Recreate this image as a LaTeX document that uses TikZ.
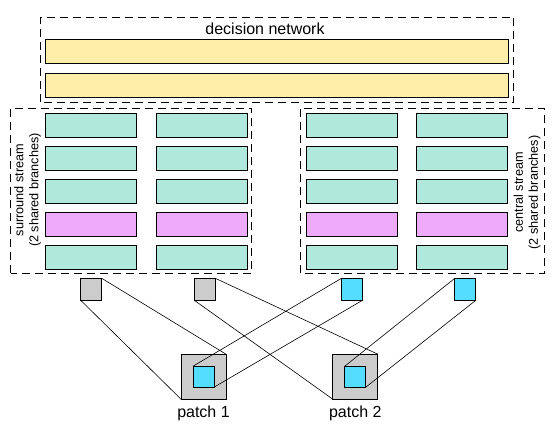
\documentclass[tikz,border=0pt]{standalone}
\usepackage{fontspec}
\setmainfont{Liberation Sans}
\usetikzlibrary{positioning}
\definecolor{netyellow}{HTML}{FFEDAA}
\definecolor{netteal}{HTML}{B0E8DC}
\definecolor{netpink}{HTML}{EEAAFB}
\definecolor{netgray}{HTML}{CCCCCC}
\definecolor{netblue}{HTML}{55DDFF}

\begin{document}
\begin{tikzpicture}[x=1pt,y=1pt,
  layer/.style={draw,line width=0.8pt,inner sep=0pt,outer sep=0pt,minimum height=24pt},
  group/.style={draw,dash pattern=on 8pt off 5pt,line width=0.8pt},
  unit/.style={draw,line width=0.8pt,inner sep=0pt,outer sep=0pt,minimum width=21pt,minimum height=22pt},
  patch/.style={draw,line width=0.8pt,inner sep=0pt,outer sep=0pt,minimum size=45pt,fill=netgray},
  wire/.style={line width=0.6pt}]
\useasboundingbox (0,0) rectangle (557,430);
% decision network
\draw[group] (40.7,328) rectangle (513.7,413);
\node (title) at (265,401.5) {\fontsize{16}{19}\selectfont decision network};
\node[layer,fill=netyellow,minimum width=463pt] (fc1) at (277,378.7) {};
\node[layer,fill=netyellow,minimum width=463pt] (fc2) at (277,344.7) {};
% two streams
\draw[group] (10.7,156.7) rectangle (251.7,321.7);
\draw[group] (300.3,156.7) rectangle (544.7,321.7);
\foreach \c/\x in {1/91,2/202,3/352,4/462.3}
  \foreach \r/\col in {1/netteal,2/netteal,3/netteal,4/netpink,5/netteal}
    \node[layer,fill=\col,minimum width=91pt] (l\c\r) at (\x,{337.8-33*\r}) {};
\node[rotate=90,align=center,font=\fontsize{12.7}{15}\selectfont] (surround) at (27.5,240) {surround stream\\(2 shared branches)};
\node[rotate=90,align=center,font=\fontsize{12.7}{15}\selectfont] (central) at (527,237.5) {central stream\\(2 shared branches)};
% inputs
\node[unit,fill=netgray] (s1) at (91.2,140.7) {};
\node[unit,fill=netgray] (s2) at (204.8,140.7) {};
\node[unit,fill=netblue] (c1) at (352,140.7) {};
\node[unit,fill=netblue] (c2) at (465.3,140.7) {};
% patches
\node[patch] (p1) at (203.5,53.3) {};
\node[patch] (p2) at (355.3,53.3) {};
\node[unit,fill=netblue,minimum height=21pt] (q1) at (p1.center) {};
\node[unit,fill=netblue,minimum height=21pt] (q2) at (p2.center) {};
\node[below=3pt of p1,font=\fontsize{16}{19}\selectfont] (lab1) {patch 1};
\node[below=3pt of p2,font=\fontsize{16}{19}\selectfont] (lab2) {patch 2};
% wiring
\draw[wire] (s1.south west) -- (p1.south west);
\draw[wire] (s1.north east) -- (p1.north east);
\draw[wire] (s2.south west) -- (p2.south west);
\draw[wire] (s2.north east) -- (p2.north east);
\draw[wire] (c1.north west) -- (q1.north west);
\draw[wire] (c1.south east) -- (q1.south east);
\draw[wire] (c2.north west) -- (q2.north west);
\draw[wire] (c2.south east) -- (q2.south east);
\end{tikzpicture}
\end{document}
